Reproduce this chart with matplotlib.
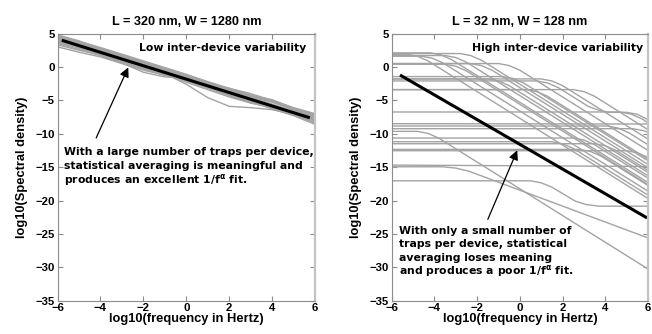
import numpy as np
import matplotlib
matplotlib.use("Agg")
import matplotlib.pyplot as plt

# frequency grid used for the large-device spectra (log10 Hz)
x_grid = [-6, -5, -4, -3, -2, -1, 0, 1, 2, 3, 4, 5, 6]

# large device (L = 320 nm): individual device spectra, log10 S
large_dev = [
    [4.6, 3.8, 2.9, 1.9, 0.9, -0.1, -1.1, -2.2, -3.2, -4.2, -5.2, -6.3, -7.2],
    [4.4, 3.5, 2.6, 1.7, 0.6, -0.4, -1.4, -2.5, -3.4, -4.5, -5.3, -6.4, -7.5],
    [4.0, 3.0, 2.0, 1.0, 0.0, -1.1, -2.0, -3.0, -4.1, -5.0, -6.0, -7.0, -8.0],
    [3.5, 2.6, 1.7, 0.6, -0.3, -1.3, -1.8, -2.9, -4.2, -5.3, -6.2, -7.2, -8.3],
    [3.0, 2.2, 1.5, 0.5, -0.5, -1.2, -1.4, -2.5, -3.9, -5.1, -6.3, -7.3, -8.6],
    [4.8, 3.9, 2.8, 1.8, 0.7, -0.3, -1.4, -2.4, -3.2, -4.0, -5.0, -6.1, -7.0],
    [4.2, 3.3, 2.3, 1.3, 0.3, -1.0, -2.6, -4.6, -5.9, -6.1, -6.4, -7.1, -8.0],
    [3.8, 2.9, 1.8, 0.6, -0.8, -1.5, -1.7, -2.9, -3.9, -5.0, -5.9, -6.9, -7.9],
    [4.3, 3.4, 2.4, 1.5, 0.4, -0.6, -1.6, -2.5, -3.6, -4.5, -5.6, -6.6, -7.5],
    [4.1, 3.1, 2.1, 1.1, 0.2, -0.9, -1.9, -3.1, -3.9, -4.7, -5.7, -6.9, -7.8],
    [3.7, 2.8, 1.9, 0.9, -0.1, -1.0, -2.1, -3.2, -4.3, -5.4, -6.0, -6.8, -7.9],
    [4.5, 3.6, 2.5, 1.5, 0.6, -0.4, -1.7, -2.7, -3.7, -4.4, -5.1, -6.4, -7.4],
    [3.9, 3.0, 2.2, 1.2, 0.3, -0.7, -1.9, -2.9, -3.9, -5.1, -6.1, -6.9, -8.1],
    [3.3, 2.5, 1.8, 0.8, -0.2, -1.1, -2.3, -3.4, -4.5, -5.4, -6.1, -7.1, -8.4],
    [4.6, 3.6, 2.7, 1.7, 0.8, -0.2, -1.3, -2.3, -3.4, -4.3, -4.9, -6.2, -7.1],
    [4.0, 3.2, 2.3, 1.4, 0.3, -0.6, -1.6, -2.7, -3.8, -4.7, -5.6, -6.7, -7.7],
]
large_fit_x = [-5.73, 5.69]
large_fit_y = [3.92, -7.55]

# small device (L = 32 nm): few traps -> Lorentzian-like steps, (x, log10 S) vertices
small_dev = [
    [(-6, 2.1), (-4.2, 2.1), (-3.7, 1.8), (-3.2, 1.1), (6, -17.3)],
    [(-6, 1.9), (-5.3, 1.9), (-4.8, 1.6), (-4.3, 0.9), (6, -19.7)],
    [(-6, 1.6), (-4.6, 1.6), (-4.1, 1.3), (-3.6, 0.6), (6, -18.6)],
    [(-6, 1.7), (-3.5, 1.7), (-3.0, 1.4), (-2.5, 0.7), (6, -16.3)],
    [(-6, 2.0), (-2.8, 2.0), (-2.3, 1.7), (-1.8, 1.0), (6, -14.6)],
    [(-6, 0.5), (-2.3, 0.5), (-1.8, 0.2), (-1.3, -0.5), (6, -15.1)],
    [(-6, 0.4), (-3.5, 0.4), (-3.0, 0.1), (-2.5, -0.6), (6, -17.6)],
    [(-6, 0.5), (-1.0, 0.5), (-0.5, 0.2), (0.0, -0.5), (6, -12.5)],
    [(-6, -1.45), (-0.8, -1.45), (-0.3, -1.75), (0.2, -2.45), (6, -14.05)],
    [(-6, -1.8), (1.0, -1.8), (1.5, -2.1), (2.0, -2.8), (6, -10.8)],
    [(-6, -1.8), (-1.5, -1.8), (-1.0, -2.1), (-0.5, -2.8), (6, -15.8)],
    [(-6, -2.1), (0.8, -2.1), (1.3, -2.4), (1.8, -3.1), (3.2, -5.9), (3.7, -6.5),
     (4.2, -6.8), (5.0, -6.8), (5.5, -7.1), (6, -7.9)],
    [(-6, -3.4), (0.3, -3.4), (0.8, -3.7), (1.3, -4.4), (6, -13.8)],
    [(-6, -3.4), (2.5, -3.4), (3.0, -3.7), (3.5, -4.4), (6, -9.4)],
    [(-6, -6.75), (4.7, -6.75), (5.2, -7.05), (5.7, -7.75), (6, -8.35)],
    [(-6, -8.5), (6, -8.55)],
    [(-6, -8.85), (4.1, -8.85), (4.6, -9.15), (5.1, -9.85), (6, -11.65)],
    [(-6, -9.25), (5.3, -9.25), (5.8, -9.55), (6, -9.8)],
    [(-6, -9.65), (-4.8, -9.65), (-4.3, -9.95), (-3.8, -10.65), (6, -30.25)],
    [(-6, -10.65), (2.5, -10.65), (3.0, -10.95), (3.5, -11.65), (6, -16.65)],
    [(-6, -11.2), (1.5, -11.2), (2.0, -11.5), (2.5, -12.2), (6, -19.2)],
    [(-6, -11.5), (3.5, -11.5), (4.0, -11.8), (4.5, -12.5), (6, -15.5)],
    [(-6, -12.35), (2.8, -12.35), (3.3, -12.65), (3.8, -13.35), (6, -17.75)],
    [(-6, -12.55), (5.0, -12.55), (5.5, -12.85), (6, -13.55)],
    [(-6, -14.7), (6, -14.9)],
    [(-6, -14.95), (-3.6, -14.95), (-3.0, -15.15), (-2.4, -15.6), (6, -25.6)],
    [(-6, -17.05), (0.5, -17.05), (1.0, -17.35), (1.5, -18.0), (2.6, -20.1),
     (3.1, -20.6), (3.7, -20.85), (6, -20.85)],
]
small_fit_x = [-5.55, 5.9]
small_fit_y = [-1.33, -22.5]

xticks = [-6, -4, -2, 0, 2, 4, 6]
yticks = [-35, -30, -25, -20, -15, -10, -5, 0, 5]

# annotation lines, drawn one per baseline so the spacing stays even
large_note = ['With a large number of traps per device,',
              'statistical averaging is meaningful and',
              r'produces an excellent 1/f$^{\mathbf{\alpha}}$ fit.']
large_note_y = [-13.15, -15.25, -17.35]
small_note = ['With only a small number of',
              'traps per device, statistical',
              'averaging loses meaning',
              r'and produces a poor 1/f$^{\mathbf{\alpha}}$ fit.']
small_note_y = [-24.95, -26.95, -29.05, -31.05]

plt.rcParams['mathtext.fontset'] = 'dejavusans'
label_font = dict(family='Liberation Sans', weight='bold')
note_font = dict(family='DejaVu Sans', weight='bold', size=7.8)
grey = '#a3a3a3'

fig = plt.figure(figsize=(6.52, 3.34), dpi=100)
ax1 = fig.add_axes([0.0882, 0.0997, 0.395, 0.80])
ax2 = fig.add_axes([0.6008, 0.0997, 0.393, 0.80])


def style_axes(ax, title):
    ax.set_xlim(-6, 6)
    ax.set_ylim(-35, 5)
    ax.set_xticks(xticks)
    ax.set_yticks(yticks)
    ax.tick_params(direction='in', top=True, right=True, length=3.5,
                   width=0.8, color='#8c8c8c', labelsize=8.2, pad=2)
    for lab in ax.get_xticklabels() + ax.get_yticklabels():
        lab.set_fontfamily('Liberation Sans')
        lab.set_fontweight('bold')
    for side in ['left', 'bottom', 'top']:
        ax.spines[side].set_color('#8c8c8c')
        ax.spines[side].set_linewidth(0.8)
    ax.spines['right'].set_color('#c4c4c4')
    ax.spines['right'].set_linewidth(1.6)
    ax.set_title(title, fontsize=9.1, pad=6, **label_font)
    ax.set_xlabel('log10(frequency in Hertz)', fontsize=9.3, labelpad=0, **label_font)
    ax.set_ylabel('log10(Spectral density)', fontsize=9.3, labelpad=5, **label_font)


# left panel: many traps per device
for ys in large_dev:
    ax1.plot(x_grid, ys, color=grey, lw=1.0)
ax1.plot(large_fit_x, large_fit_y, color='k', lw=2.2)
ax1.text(5.6, 2.9, 'Low inter-device variability', ha='right', va='center', **note_font)
ax1.annotate('', xy=(-2.65, 0.3), xytext=(-4.25, -11.0),
             arrowprops=dict(arrowstyle='-|>', color='k', lw=0.9, mutation_scale=14))
for line, y in zip(large_note, large_note_y):
    ax1.text(-5.68, y, line, ha='left', va='baseline', **note_font)
style_axes(ax1, 'L = 320 nm, W = 1280 nm')

# right panel: only a handful of traps per device
for pts in small_dev:
    xs = [p[0] for p in pts]
    ys = [p[1] for p in pts]
    ax2.plot(xs, ys, color=grey, lw=1.0)
ax2.plot(small_fit_x, small_fit_y, color='k', lw=2.2)
ax2.text(5.78, 2.86, 'High inter-device variability', ha='right', va='center', **note_font)
ax2.annotate('', xy=(-0.07, -12.1), xytext=(-1.55, -23.2),
             arrowprops=dict(arrowstyle='-|>', color='k', lw=0.9, mutation_scale=14))
for line, y in zip(small_note, small_note_y):
    ax2.text(-5.66, y, line, ha='left', va='baseline', **note_font)
style_axes(ax2, 'L = 32 nm, W = 128 nm')

fig.savefig('out.png', dpi=100)
